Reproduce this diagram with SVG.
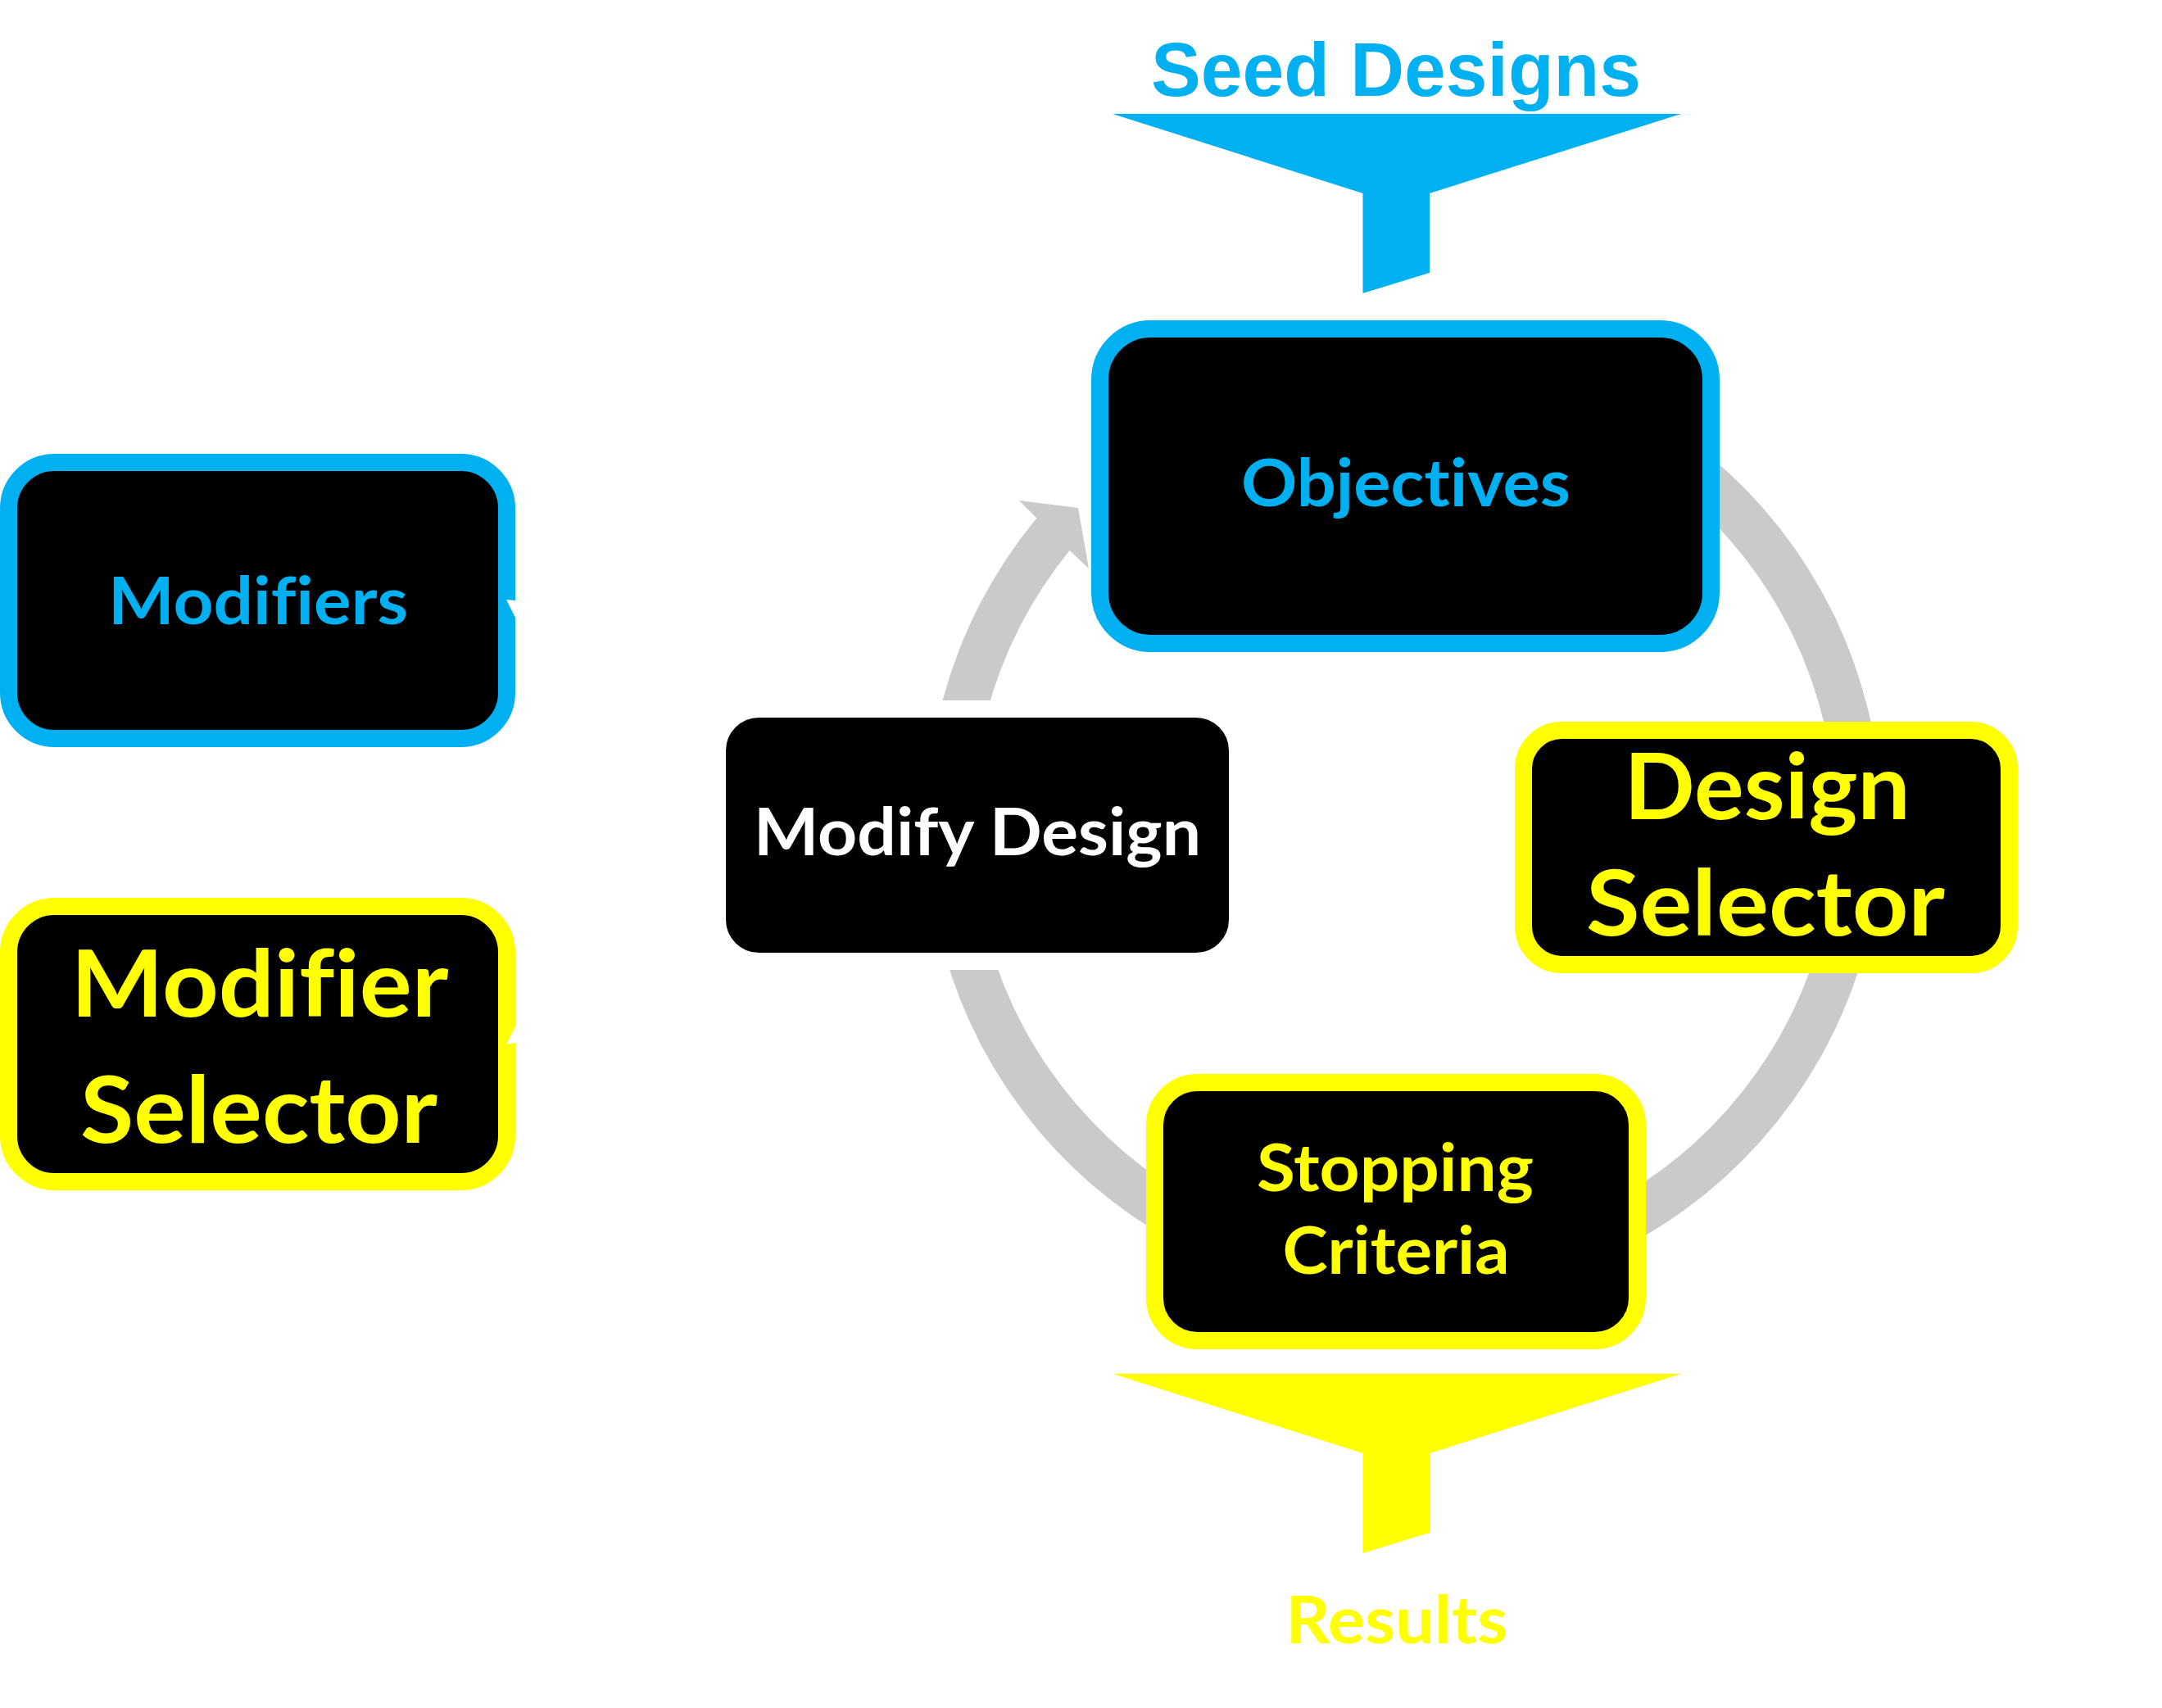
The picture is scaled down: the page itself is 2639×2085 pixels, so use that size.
<svg xmlns="http://www.w3.org/2000/svg" width="2639" height="2085" viewBox="0 0 2639 2085">
<style>
.box{fill:#000000;stroke-width:21}
.blue{stroke:#00B0F0}
.yel{stroke:#FFFF00}
.wht{stroke:#FFFFFF}
.lbl{font-family:Lato,"Open Sans","Noto Sans",sans-serif;font-weight:bold;text-anchor:middle;font-variant-ligatures:none;font-feature-settings:"liga" 0,"clig" 0,"dlig" 0}
.tb{fill:#00B0F0}
.ty{fill:#FFFF00}
.tw{fill:#FFFFFF}
.ring{fill:#CACACA}
</style>
<rect x="0" y="0" width="2639" height="2085" fill="#FFFFFF"/>

<g id="connectors">
  <path class="ring" d="M 1864.9 441.9 A 583 583 0 1 1 1265.4 632.6 L 1244 611 L 1316 620 L 1329 694 L 1305.6 671.9 A 527 527 0 1 0 1850.4 496 Z"/>
  <polygon id="seed-funnel" fill="#00B0F0" points="1358,139 2052,139 1745,236 1745,333 1663.5,358 1663.5,236"/>
  <polygon id="results-funnel" fill="#FFFF00" points="1358,1677 2052,1677 1745,1774 1745,1871 1663.5,1896 1663.5,1774"/>
</g>

<g id="seed-designs">
  <text x="1704" y="117" font-family="'Liberation Sans',Arial,sans-serif" font-weight="bold" font-size="92" fill="#00B0F0" text-anchor="middle" textLength="598" lengthAdjust="spacingAndGlyphs">Seed Designs</text>
</g>

<g id="objectives">
  <rect class="box blue" x="1342.5" y="401.5" width="746" height="384" rx="62" ry="62"/>
  <text class="lbl tb" x="1716" y="618" font-size="81" textLength="402" lengthAdjust="spacingAndGlyphs">Objectives</text>
</g>

<g id="modify-design">
  <rect class="box wht" x="875.5" y="865.5" width="635" height="308" rx="51" ry="51"/>
  <text class="lbl tw" x="1193" y="1044" font-size="81" textLength="546" lengthAdjust="spacingAndGlyphs">Modify Design</text>
</g>

<g id="design-selector">
  <rect class="box yel" x="1859.5" y="891.5" width="593" height="286" rx="47" ry="47"/>
  <text class="lbl ty" x="2157" y="1000" font-size="111" textLength="349" lengthAdjust="spacingAndGlyphs">Design</text>
  <text class="lbl ty" x="2155" y="1142" font-size="111" textLength="438" lengthAdjust="spacingAndGlyphs">Selector</text>
</g>

<g id="stopping-criteria">
  <rect class="box yel" x="1409.5" y="1321.5" width="589" height="315" rx="52" ry="52"/>
  <text class="lbl ty" x="1703" y="1454" font-size="81" textLength="338" lengthAdjust="spacingAndGlyphs">Stopping</text>
  <text class="lbl ty" x="1704" y="1555" font-size="81" textLength="277" lengthAdjust="spacingAndGlyphs">Criteria</text>
</g>

<g id="modifiers">
  <rect class="box blue" x="10.5" y="564.5" width="608" height="337" rx="56" ry="56"/>
  <text class="lbl tb" x="315" y="762" font-size="81" textLength="366" lengthAdjust="spacingAndGlyphs">Modifiers</text>
</g>

<g id="modifier-selector">
  <rect class="box yel" x="10.5" y="1106.5" width="608" height="336" rx="56" ry="56"/>
  <text class="lbl ty" x="317" y="1241" font-size="113" textLength="461" lengthAdjust="spacingAndGlyphs">Modifier</text>
  <text class="lbl ty" x="316" y="1395" font-size="113" textLength="436" lengthAdjust="spacingAndGlyphs">Selector</text>
</g>

<g id="results">
  <text class="lbl ty" x="1705" y="2006" font-size="81" textLength="271" lengthAdjust="spacingAndGlyphs">Results</text>
</g>

<g id="connector-tips" fill="#FFFFFF">
  <polygon points="618,732 629,733 629,754"/>
  <polygon points="629,1253 618,1275 629,1273"/>
</g>
</svg>
